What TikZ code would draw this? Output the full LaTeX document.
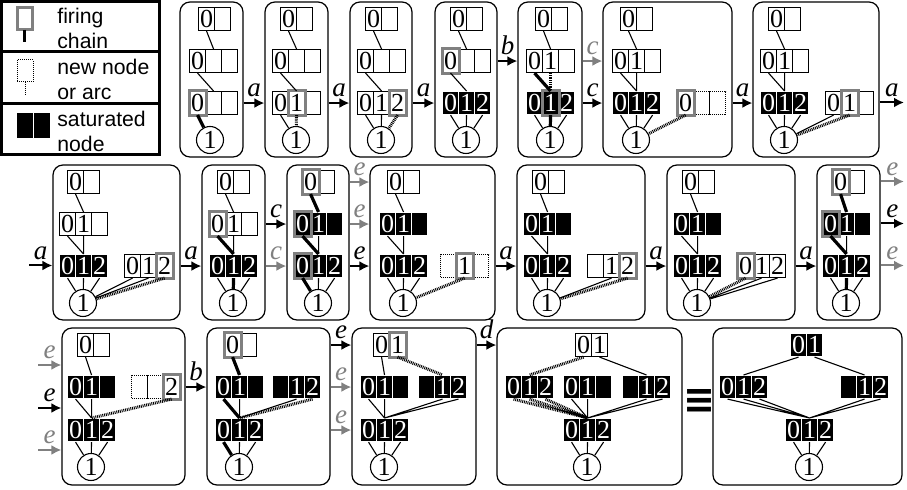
\documentclass[tikz,border=0pt]{standalone}
\usepackage{fontspec}
\setmainfont{Liberation Serif}
\newfontfamily\legfont{Liberation Sans}
\newfontfamily\symfont{DejaVu Sans}
\usepackage{graphicx}
\usetikzlibrary{fit,arrows.meta}
\definecolor{hlgray}{gray}{0.5}
\newcommand{\digits}{\fontsize{13}{13}\selectfont}
\tikzset{
  cell/.style={minimum width=8pt,minimum height=11.5pt,inner sep=0pt,anchor=north west,font=\digits,line width=0.55pt},
  wcell/.style={cell,draw,fill=white},
  kcell/.style={cell,draw=white,fill=black,text=white},
  dcell/.style={cell,draw,dash pattern=on 0.5pt off 0.5pt},
  term/.style={circle,draw,fill=white,minimum size=13.5pt,inner sep=0pt,font=\digits,line width=0.55pt},
  panel/.style={draw,rounded corners=5pt,inner sep=0pt,line width=0.6pt},
  hlframe/.style={draw=hlgray,line width=1.5pt},
  tie/.style={line width=0.55pt},
  firetie/.style={line width=1.6pt},
  newtie/.style={line width=1.5pt,dash pattern=on 0.45pt off 0.45pt},
  trans/.style={line width=1pt,-{Latex[length=5pt,width=5pt]}},
  transg/.style={trans,draw=hlgray},
  lbl/.style={font=\fontsize{13.5}{13.5}\selectfont\itshape,inner sep=2.5pt,above},
  lblg/.style={lbl,text=hlgray},
  legtext/.style={anchor=west,align=left,inner sep=0pt,font=\legfont\fontsize{10.6}{12.5}\selectfont}
}
% one record = a row of cells, named <name>-0, <name>-1, ...
\newcommand{\rec}[4]{\foreach \sty/\lab [count=\cc from 0] in {#4}
  \node[\sty] (#1-\cc) at ({#2+16*\cc},#3) {\lab};}
\newcommand{\hilite}[1]{\draw[hlframe] (#1.north west) rectangle (#1.south east);}

\begin{document}
\begin{tikzpicture}[x=0.5pt,y=-0.5pt]
\useasboundingbox (0,0) rectangle (907,490);

% legend
\draw[line width=1.5pt] (1.5,1.5) rectangle (159,154.5);
\draw[line width=1.5pt] (1.5,52) -- (159,52) (1.5,104) -- (159,104);
\draw[hlframe] (17,8) rectangle (32,30);
\draw[firetie] (24.5,30) -- (24.5,42);
\draw[dash pattern=on 0.5pt off 0.5pt,line width=0.5pt] (17,60) rectangle (33,82) (25,82) -- (25,96);
\fill (17,113) rectangle (50,138);
\draw[white,line width=0.5pt] (33.5,113) -- (33.5,138);
\node[legtext] (lg1) at (57,28) {firing\\chain};
\node[legtext] (lg2) at (57,79) {new node\\or arc};
\node[legtext] (lg3) at (57,131) {saturated\\node};

% row 1
\node[panel,fit={(180,2) (243,157)}] (p1) {};
\rec{t1}{198}{7}{wcell/0,wcell/{}}
\rec{m1}{189}{49}{wcell/0,wcell/{},wcell/{}}
\rec{b1}{189}{91}{wcell/0,wcell/{},wcell/{}}
\node[term] (c1) at (210,140) {1};
\hilite{b1-0}
\draw[tie] (t1-0.south) -- (m1-1.north) (m1-0.south) -- (b1-1.north);
\draw[firetie] (b1-0.south) -- (c1);

\node[panel,fit={(265,2) (328,157)}] (p2) {};
\rec{t2}{280}{7}{wcell/0,wcell/{}}
\rec{m2}{272}{49}{wcell/0,wcell/{},wcell/{}}
\rec{b2}{272}{91}{wcell/0,wcell/1,wcell/{}}
\node[term] (c2) at (296,140) {1};
\hilite{b2-1}
\draw[tie] (t2-0.south) -- (m2-1.north) (m2-0.south) -- (b2-1.north) (b2-0.south) -- (c2);
\draw[newtie] (b2-1.south) -- (c2);

\node[panel,fit={(350,2) (412,157)}] (p3) {};
\rec{t3}{365}{7}{wcell/0,wcell/{}}
\rec{m3}{357}{49}{wcell/0,wcell/{},wcell/{}}
\rec{b3}{357}{91}{wcell/0,wcell/1,wcell/2}
\node[term] (c3) at (381,140) {1};
\hilite{b3-2}
\draw[tie] (t3-0.south) -- (m3-1.north) (m3-0.south) -- (b3-1.north)
  (b3-0.south) -- (c3) (b3-1.south) -- (c3);
\draw[newtie] (b3-2.south) -- (c3);

\node[panel,fit={(435,2) (497,157)}] (p4) {};
\rec{t4}{450}{7}{wcell/0,wcell/{}}
\rec{m4}{442}{49}{wcell/0,wcell/{},wcell/{}}
\rec{b4}{442}{91}{kcell/0,kcell/1,kcell/2}
\node[term] (c4) at (466,140) {1};
\hilite{m4-0}
\draw[tie] (t4-0.south) -- (m4-1.north) (m4-0.south) -- (b4-1.north)
  (b4-0.south) -- (c4) (b4-1.south) -- (c4) (b4-2.south) -- (c4);

\node[panel,fit={(518,2) (582,157)}] (p5) {};
\rec{t5}{535}{7}{wcell/0,wcell/{}}
\rec{m5}{526}{49}{wcell/0,wcell/1,wcell/{}}
\rec{b5}{526}{91}{kcell/0,kcell/1,kcell/2}
\node[term] (c5) at (550,140) {1};
\hilite{b5-1}
\draw[tie] (t5-0.south) -- (m5-1.north) (b5-0.south) -- (c5) (b5-2.south) -- (c5);
\draw[firetie] (m5-0.south) -- (b5-1.north) (b5-1.south) -- (c5);
\draw[newtie] (m5-1.south) -- (b5-1.north);

\node[panel,fit={(603,2) (732,157)}] (p6) {};
\rec{t6}{620}{7}{wcell/0,wcell/{}}
\rec{m6}{612}{49}{wcell/0,wcell/1,wcell/{}}
\rec{b6}{612}{91}{kcell/0,kcell/1,kcell/2}
\rec{r6}{677}{91}{wcell/0,dcell/{},dcell/{}}
\node[term] (c6) at (636,140) {1};
\hilite{r6-0}
\draw[tie] (t6-0.south) -- (m6-1.north) (m6-0.south) -- (b6-1.north) (m6-1.south) -- (b6-1.north)
  (b6-0.south) -- (c6) (b6-1.south) -- (c6) (b6-2.south) -- (c6);
\draw[newtie] (r6-0.south) -- (c6);

\node[panel,fit={(753,2) (879,157)}] (p7) {};
\rec{t7}{768}{7}{wcell/0,wcell/{}}
\rec{m7}{760}{49}{wcell/0,wcell/1,wcell/{}}
\rec{b7}{760}{91}{kcell/0,kcell/1,kcell/2}
\rec{r7}{825}{91}{wcell/0,wcell/1,wcell/{}}
\node[term] (c7) at (784,140) {1};
\hilite{r7-1}
\draw[tie] (t7-0.south) -- (m7-1.north) (m7-0.south) -- (b7-1.north) (m7-1.south) -- (b7-1.north)
  (b7-0.south) -- (c7) (b7-1.south) -- (c7) (b7-2.south) -- (c7) (r7-0.south) -- (c7);
\draw[newtie] (r7-1.south) -- (c7);

\coordinate (o7) at (904,102.5);
\draw[trans] (p1.east |- b1-0) -- node[lbl]{a} (p2.west |- b1-0);
\draw[trans] (p2.east |- b2-0) -- node[lbl]{a} (p3.west |- b2-0);
\draw[trans] (p3.east |- b3-0) -- node[lbl]{a} (p4.west |- b3-0);
\draw[trans] (p4.east |- m4-0) -- node[lbl]{b} (p5.west |- m4-0);
\draw[transg] (p5.east |- m5-0) -- node[lblg]{c} (p6.west |- m5-0);
\draw[trans] (p5.east |- b5-0) -- node[lbl]{c} (p6.west |- b5-0);
\draw[trans] (p6.east |- b6-0) -- node[lbl]{a} (p7.west |- b6-0);
\draw[trans] (p7.east |- o7) -- node[lbl]{a} (o7);

% row 2
\node[panel,fit={(53,165) (180,320)}] (p8) {};
\rec{t8}{67}{170}{wcell/0,wcell/{}}
\rec{m8}{59}{212}{wcell/0,wcell/1,wcell/{}}
\rec{b8}{59}{254}{kcell/0,kcell/1,kcell/2}
\rec{r8}{124}{254}{wcell/0,wcell/1,wcell/2}
\node[term] (c8) at (83,303) {1};
\hilite{r8-2}
\draw[tie] (t8-0.south) -- (m8-1.north) (m8-0.south) -- (b8-1.north) (m8-1.south) -- (b8-1.north)
  (b8-0.south) -- (c8) (b8-1.south) -- (c8) (b8-2.south) -- (c8)
  (r8-0.south) -- (c8) (r8-1.south) -- (c8);
\draw[newtie] (r8-2.south) -- (c8);

\node[panel,fit={(202,165) (265,320)}] (p9) {};
\rec{t9}{217}{170}{wcell/0,wcell/{}}
\rec{m9}{209}{212}{wcell/0,wcell/1,wcell/{}}
\rec{b9}{209}{254}{kcell/0,kcell/1,kcell/2}
\node[term] (c9) at (233,303) {1};
\hilite{m9-0}
\draw[tie] (t9-0.south) -- (m9-1.north) (m9-1.south) -- (b9-1.north) (b9-0.south) -- (c9) (b9-2.south) -- (c9);
\draw[firetie] (m9-0.south) -- (b9-1.north) (b9-1.south) -- (c9);

\node[panel,fit={(287,165) (349,320)}] (p10) {};
\rec{t10}{302}{170}{wcell/0,wcell/{}}
\rec{m10}{294}{212}{kcell/0,kcell/1,kcell/{}}
\rec{b10}{294}{254}{kcell/0,kcell/1,kcell/2}
\node[term] (c10) at (318,303) {1};
\hilite{t10-0} \hilite{m10-0} \hilite{b10-0}
\draw[tie] (m10-1.south) -- (b10-1.north) (b10-1.south) -- (c10) (b10-2.south) -- (c10);
\draw[firetie] (t10-0.south) -- (m10-1.north) (m10-0.south) -- (b10-1.north) (b10-0.south) -- (c10);

\node[panel,fit={(370,165) (495,320)}] (p11) {};
\rec{t11}{387}{170}{wcell/0,wcell/{}}
\rec{m11}{379}{212}{kcell/0,kcell/1,kcell/{}}
\rec{b11}{379}{254}{kcell/0,kcell/1,kcell/2}
\rec{r11}{440}{254}{dcell/{},wcell/1,dcell/{}}
\node[term] (c11) at (403,303) {1};
\hilite{r11-1}
\draw[tie] (t11-0.south) -- (m11-1.north) (m11-0.south) -- (b11-1.north) (m11-1.south) -- (b11-1.north)
  (b11-0.south) -- (c11) (b11-1.south) -- (c11) (b11-2.south) -- (c11);
\draw[newtie] (r11-1.south) -- (c11);

\node[panel,fit={(517,165) (645,320)}] (p12) {};
\rec{t12}{532}{170}{wcell/0,wcell/{}}
\rec{m12}{523}{212}{kcell/0,kcell/1,kcell/{}}
\rec{b12}{523}{254}{kcell/0,kcell/1,kcell/2}
\rec{r12}{587}{254}{wcell/{},wcell/1,wcell/2}
\node[term] (c12) at (547,303) {1};
\hilite{r12-2}
\draw[tie] (t12-0.south) -- (m12-1.north) (m12-0.south) -- (b12-1.north) (m12-1.south) -- (b12-1.north)
  (b12-0.south) -- (c12) (b12-1.south) -- (c12) (b12-2.south) -- (c12) (r12-1.south) -- (c12);
\draw[newtie] (r12-2.south) -- (c12);

\node[panel,fit={(667,165) (795,320)}] (p13) {};
\rec{t13}{682}{170}{wcell/0,wcell/{}}
\rec{m13}{673}{212}{kcell/0,kcell/1,kcell/{}}
\rec{b13}{673}{254}{kcell/0,kcell/1,kcell/2}
\rec{r13}{737}{254}{wcell/0,wcell/1,wcell/2}
\node[term] (c13) at (697,303) {1};
\hilite{r13-0}
\draw[tie] (t13-0.south) -- (m13-1.north) (m13-0.south) -- (b13-1.north) (m13-1.south) -- (b13-1.north)
  (b13-0.south) -- (c13) (b13-1.south) -- (c13) (b13-2.south) -- (c13)
  (r13-1.south) -- (c13) (r13-2.south) -- (c13);
\draw[newtie] (r13-0.south) -- (c13);

\node[panel,fit={(817,165) (880,320)}] (p14) {};
\rec{t14}{832}{170}{wcell/0,wcell/{}}
\rec{m14}{822}{212}{kcell/0,kcell/1,kcell/{}}
\rec{b14}{822}{254}{kcell/0,kcell/1,kcell/2}
\node[term] (c14) at (846,303) {1};
\hilite{t14-0} \hilite{m14-0}
\draw[tie] (m14-1.south) -- (b14-1.north) (b14-0.south) -- (c14) (b14-2.south) -- (c14);
\draw[firetie] (t14-0.south) -- (m14-1.north) (m14-0.south) -- (b14-1.north) (b14-1.south) -- (c14);

\coordinate (i8) at (29,265.5);
\coordinate (o14a) at (904,181.5);
\coordinate (o14b) at (904,223.5);
\coordinate (o14c) at (904,265.5);
\draw[trans] (i8) -- node[lbl]{a} (p8.west |- i8);
\draw[trans] (p8.east |- b8-0) -- node[lbl]{a} (p9.west |- b8-0);
\draw[trans] (p9.east |- m9-0) -- node[lbl]{c} (p10.west |- m9-0);
\draw[transg] (p9.east |- b9-0) -- node[lblg]{c} (p10.west |- b9-0);
\draw[transg] (p10.east |- t10-0) -- node[lblg]{e} (p11.west |- t10-0);
\draw[transg] (p10.east |- m10-0) -- node[lblg]{e} (p11.west |- m10-0);
\draw[trans] (p10.east |- b10-0) -- node[lbl]{e} (p11.west |- b10-0);
\draw[trans] (p11.east |- b11-0) -- node[lbl]{a} (p12.west |- b11-0);
\draw[trans] (p12.east |- b12-0) -- node[lbl]{a} (p13.west |- b12-0);
\draw[trans] (p13.east |- b13-0) -- node[lbl]{a} (p14.west |- b13-0);
\draw[transg] (p14.east |- o14a) -- node[lblg]{e} (o14a);
\draw[trans] (p14.east |- o14b) -- node[lbl]{e} (o14b);
\draw[transg] (p14.east |- o14c) -- node[lblg]{e} (o14c);

% row 3
\node[panel,fit={(62,328) (185,485)}] (p15) {};
\rec{t15}{77}{333}{wcell/0,wcell/{}}
\rec{m15}{67}{375}{kcell/0,kcell/1,kcell/{}}
\rec{r15}{131}{375}{dcell/{},dcell/{},wcell/2}
\rec{b15}{67}{418}{kcell/0,kcell/1,kcell/2}
\node[term] (c15) at (91,467) {1};
\hilite{r15-2}
\draw[tie] (t15-0.south) -- (m15-1.north) (m15-0.south) -- (b15-1.north) (m15-1.south) -- (b15-1.north)
  (b15-0.south) -- (c15) (b15-1.south) -- (c15) (b15-2.south) -- (c15);
\draw[newtie] (r15-2.south) -- (b15-1.north);

\node[panel,fit={(207,328) (330,485)}] (p16) {};
\rec{t16}{224}{333}{wcell/0,wcell/{}}
\rec{m16}{215}{375}{kcell/0,kcell/1,kcell/{}}
\rec{r16}{272}{375}{kcell/{},kcell/1,kcell/2}
\rec{b16}{215}{418}{kcell/0,kcell/1,kcell/2}
\node[term] (c16) at (239,467) {1};
\hilite{t16-0}
\draw[tie] (m16-1.south) -- (b16-1.north) (r16-1.south) -- (b16-1.north)
  (b16-1.south) -- (c16) (b16-2.south) -- (c16);
\draw[firetie] (t16-0.south) -- (m16-1.north) (m16-0.south) -- (b16-1.north) (b16-0.south) -- (c16);
\draw[newtie] (r16-2.south) -- (b16-1.north);

\node[panel,fit={(352,328) (476,485)}] (p17) {};
\rec{t17}{373}{333}{wcell/0,wcell/1}
\rec{m17}{360}{375}{kcell/0,kcell/1,kcell/{}}
\rec{r17}{418}{375}{kcell/{},kcell/1,kcell/2}
\rec{b17}{360}{418}{kcell/0,kcell/1,kcell/2}
\node[term] (c17) at (384,467) {1};
\hilite{t17-1}
\draw[tie] (t17-0.south) -- (m17-1.north) (m17-0.south) -- (b17-1.north) (m17-1.south) -- (b17-1.north)
  (r17-1.south) -- (b17-1.north) (r17-2.south) -- (b17-1.north)
  (b17-0.south) -- (c17) (b17-1.south) -- (c17) (b17-2.south) -- (c17);
\draw[newtie] (t17-1.south) -- (r17-1.north);

\node[panel,fit={(497,328) (682,485)}] (p18) {};
\rec{t18}{575}{333}{wcell/0,wcell/1}
\rec{l18}{505}{375}{kcell/0,kcell/1,kcell/2}
\rec{m18}{563}{375}{kcell/0,kcell/1,kcell/{}}
\rec{r18}{622}{375}{kcell/{},kcell/1,kcell/2}
\rec{b18}{563}{418}{kcell/0,kcell/1,kcell/2}
\node[term] (c18) at (587,467) {1};
\draw[tie] (t18-1.south) -- (r18-1.north) (m18-0.south) -- (b18-1.north) (m18-1.south) -- (b18-1.north)
  (r18-1.south) -- (b18-1.north) (r18-2.south) -- (b18-1.north)
  (b18-0.south) -- (c18) (b18-1.south) -- (c18) (b18-2.south) -- (c18);
\draw[newtie] (t18-0.south) -- (l18-1.north) (l18-0.south) -- (b18-1.north)
  (l18-1.south) -- (b18-1.north) (l18-2.south) -- (b18-1.north);

\node[inner sep=0pt] (eqv) at (699,402) {\resizebox{16pt}{12pt}{\symfont\bfseries ≡}};

\node[panel,fit={(713,328) (902,485)}] (p19) {};
\rec{t19}{790}{333}{kcell/0,kcell/1}
\rec{l19}{719}{375}{kcell/0,kcell/1,kcell/2}
\rec{r19}{840}{375}{kcell/{},kcell/1,kcell/2}
\rec{b19}{785}{418}{kcell/0,kcell/1,kcell/2}
\node[term] (c19) at (809,467) {1};
\draw[tie] (t19-0.south) -- (l19-1.north) (t19-1.south) -- (r19-1.north)
  (l19-0.south) -- (b19-1.north) (l19-1.south) -- (b19-1.north) (l19-2.south) -- (b19-1.north)
  (r19-1.south) -- (b19-1.north) (r19-2.south) -- (b19-1.north)
  (b19-0.south) -- (c19) (b19-1.south) -- (c19) (b19-2.south) -- (c19);

\coordinate (i15a) at (38,365);
\coordinate (i15b) at (38,408);
\coordinate (i15c) at (38,450);
\draw[transg] (i15a) -- node[lblg]{e} (p15.west |- i15a);
\draw[trans] (i15b) -- node[lbl]{e} (p15.west |- i15b);
\draw[transg] (i15c) -- node[lblg]{e} (p15.west |- i15c);
\draw[trans] (p15.east |- m15-0) -- node[lbl]{b} (p16.west |- m15-0);
\draw[trans] (p16.east |- t16-0) -- node[lbl]{e} (p17.west |- t16-0);
\draw[transg] (p16.east |- m16-0) -- node[lblg]{e} (p17.west |- m16-0);
\draw[transg] (p16.east |- b16-0) -- node[lblg]{e} (p17.west |- b16-0);
\draw[trans] (p17.east |- t17-0) -- node[lbl]{d} (p18.west |- t17-0);
\end{tikzpicture}
\end{document}
